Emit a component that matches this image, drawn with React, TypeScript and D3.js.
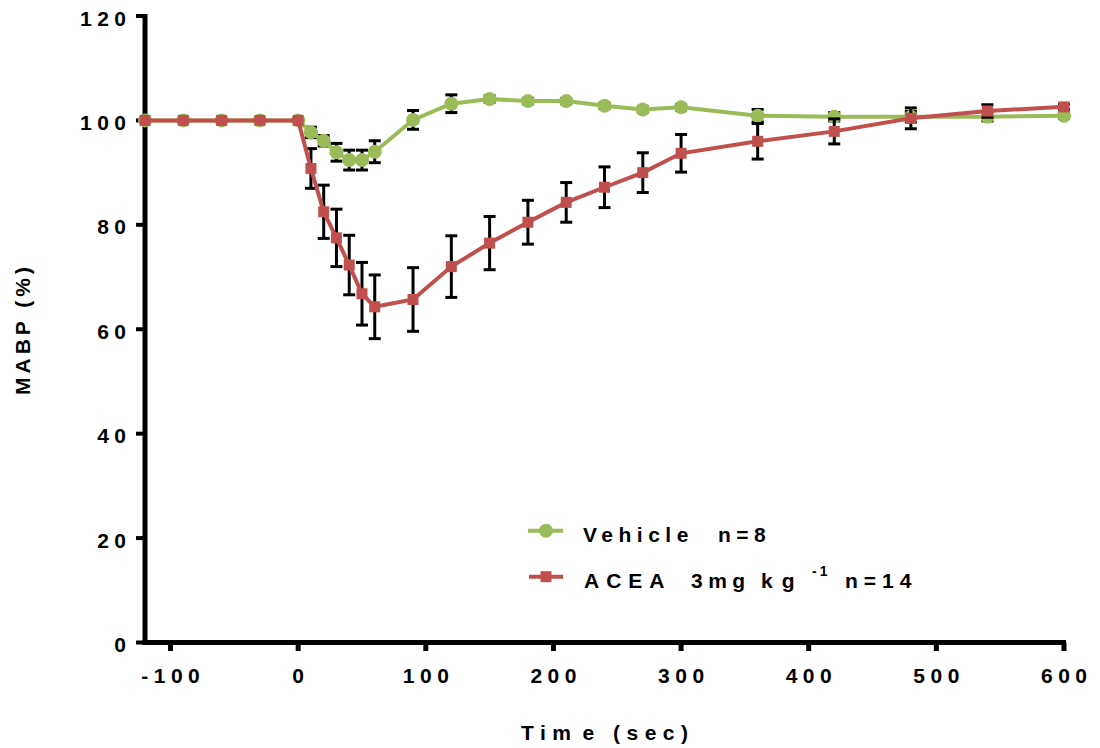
import React from 'react';
import * as d3 from 'd3';

const times = [-120, -90, -60, -30, 0, 10, 20, 30, 40, 50, 60, 90, 120, 150, 180, 210, 240, 270, 300, 360, 420, 480, 540, 600];
const vehicleMean = [100, 100, 100, 100, 100, 97.7, 96.1, 93.9, 92.4, 92.4, 94.0, 100.1, 103.2, 104.1, 103.7, 103.7, 102.8, 102.1, 102.5, 100.9, 100.7, 100.7, 100.7, 100.9];
const vehicleSem = [0, 0, 0, 0, 0, 1.0, 1.0, 1.7, 1.9, 1.9, 2.1, 1.8, 1.7, 0.6, 0.5, 0.5, 0.5, 0.5, 0.5, 1.2, 0.8, 1.0, 0.8, 0.5];
const aceaMean = [100, 100, 100, 100, 100, 90.8, 82.5, 77.5, 72.3, 66.8, 64.3, 65.7, 72.0, 76.5, 80.5, 84.3, 87.2, 90.0, 93.7, 96.0, 97.9, 100.4, 101.8, 102.6];
const aceaSem = [0, 0, 0, 0, 0, 3.8, 5.1, 5.5, 5.7, 6.0, 6.1, 6.1, 5.9, 5.1, 4.2, 3.8, 3.9, 3.8, 3.6, 3.4, 2.4, 2.0, 1.2, 0.5];
const xTicks = [-100, 0, 100, 200, 300, 400, 500, 600];
const yTicks = [0, 20, 40, 60, 80, 100, 120];

const GREEN = '#9BBB59';
const RED = '#C0504D';
const FONT = '"Liberation Sans", Arial, sans-serif';

export default function App() {
  const x = d3.scaleLinear().domain([-120, 600]).range([145, 1064]);
  const y = d3.scaleLinear().domain([0, 120]).range([642.5, 16]);
  const line = d3.line<number>().x((_, i) => x(times[i])).y((d) => y(d));
  const ls = 5.5;

  const errorBars = (means: number[], sems: number[], key: string) =>
    means.map((m, i) => {
      const s = sems[i];
      if (!s) return null;
      const cx = x(times[i]);
      const y1 = y(m + s);
      const y2 = y(m - s);
      return (
        <g key={key + i} stroke="#000" strokeWidth={3}>
          <line x1={cx} x2={cx} y1={y1} y2={y2} />
          <line x1={cx - 6} x2={cx + 6} y1={y1} y2={y1} />
          <line x1={cx - 6} x2={cx + 6} y1={y2} y2={y2} />
        </g>
      );
    });

  return (
    <div style={{ position: 'absolute', left: 0, top: 0 }}>
      <svg width={1100} height={748} style={{ display: 'block', background: '#fff' }} fontFamily={FONT} fontWeight="bold">
        {/* axes */}
        <line x1={145} x2={145} y1={14} y2={645} stroke="#000" strokeWidth={5} />
        <line x1={142.5} x2={1066} y1={642.5} y2={642.5} stroke="#000" strokeWidth={5} />
        {yTicks.map((t) => (
          <g key={'yt' + t}>
            <line x1={136} x2={145} y1={y(t)} y2={y(t)} stroke="#000" strokeWidth={4} />
            <text x={126 + ls} y={y(t) + 9.5} textAnchor="end" fontSize={21} letterSpacing={ls}>
              {t}
            </text>
          </g>
        ))}
        {xTicks.map((t) => (
          <g key={'xt' + t}>
            <line x1={x(t)} x2={x(t)} y1={642.5} y2={651} stroke="#000" strokeWidth={5} />
            <text x={x(t) + ls / 2} y={683} textAnchor="middle" fontSize={21} letterSpacing={ls}>
              {t}
            </text>
          </g>
        ))}
        <text x={521} y={740} fontSize={21} letterSpacing={6.5}>
          Tim<tspan dx={5}>e (sec)</tspan>
        </text>
        <text transform="translate(30,329) rotate(-90)" textAnchor="middle" fontSize={21} letterSpacing={4}>
          MABP (%)
        </text>

        {/* vehicle */}
        {errorBars(vehicleMean, vehicleSem, 'v')}
        <path d={line(vehicleMean) || ''} fill="none" stroke={GREEN} strokeWidth={4} />
        {vehicleMean.map((m, i) => (
          <circle key={'vc' + i} cx={x(times[i])} cy={y(m)} r={7} fill={GREEN} />
        ))}

        {/* ACEA */}
        {errorBars(aceaMean, aceaSem, 'a')}
        <path d={line(aceaMean) || ''} fill="none" stroke={RED} strokeWidth={4} />
        {aceaMean.map((m, i) => (
          <rect key={'ar' + i} x={x(times[i]) - 5.5} y={y(m) - 5.5} width={11} height={11} fill={RED} />
        ))}

        {/* legend */}
        <line x1={528} x2={563} y1={530.7} y2={530.7} stroke={GREEN} strokeWidth={4} />
        <circle cx={546} cy={530.7} r={7} fill={GREEN} />
        <text x={583} y={542} fontSize={21} letterSpacing={5.5}>
          Vehicle<tspan x={718}>n=8</tspan>
        </text>
        <line x1={529} x2={563} y1={576.7} y2={576.7} stroke={RED} strokeWidth={4} />
        <rect x={540.5} y={571.2} width={11} height={11} fill={RED} />
        <text x={584} y={588} fontSize={21} letterSpacing={7}>
          ACEA<tspan x={691} letterSpacing={5.5}>3mg</tspan>
          <tspan x={761} letterSpacing={9}>kg</tspan>
          <tspan x={812} dy={-12} fontSize={14} letterSpacing={3}>-1</tspan>
          <tspan x={845} dy={12} letterSpacing={6}>n=14</tspan>
        </text>
      </svg>
    </div>
  );
}
